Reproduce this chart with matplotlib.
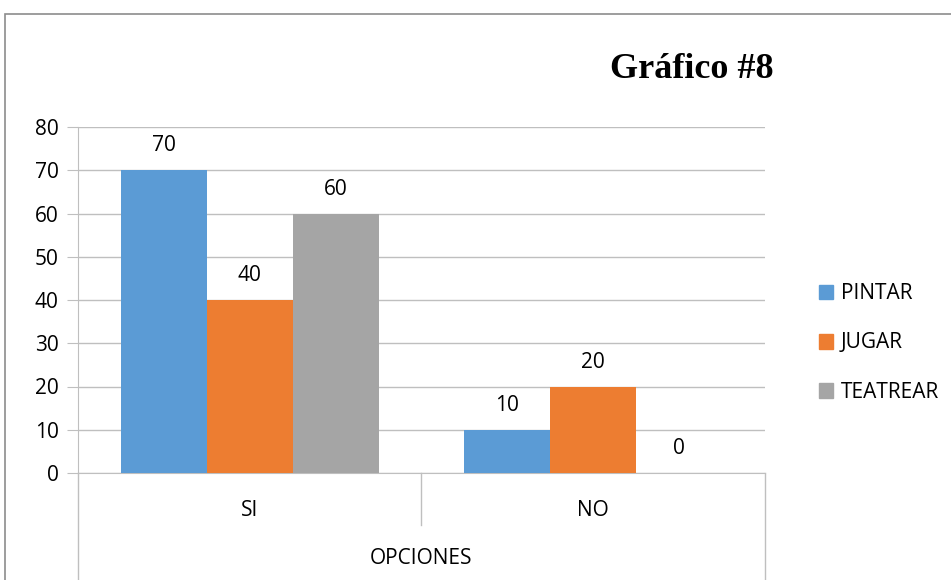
import matplotlib.pyplot as plt
import matplotlib.patches as mpatches
from matplotlib.lines import Line2D
import numpy as np

# Data
categories = ["SI", "NO"]
series_names = ["PINTAR", "JUGAR", "TEATREAR"]
pintar = [70, 10]
jugar = [40, 20]
teatrear = [60, 0]
colors = ["#5B9BD5", "#ED7D31", "#A5A5A5"]

plt.rcParams['font.family'] = ['Open Sans', 'DejaVu Sans']

W, H = 951, 580
fig = plt.figure(figsize=(W / 100, H / 100), dpi=100)

# Plot area in pixel coords
x0, x1 = 78, 765
y0, y1 = 473, 127
ax = fig.add_axes([x0 / W, 1 - y0 / H, (x1 - x0) / W, (y0 - y1) / H])

x = np.arange(len(categories))
width = 0.25
for i, (vals, name) in enumerate(zip([pintar, jugar, teatrear], series_names)):
    pos = x + (i - 1) * width
    ax.bar(pos, vals, width, color=colors[i], label=name, zorder=3)
    for p, v in zip(pos, vals):
        ax.annotate(str(v), (p, v), xytext=(0, 10), textcoords="offset points",
                    ha="center", va="bottom", fontsize=15, color="#000000")

ax.set_xlim(-0.5, 1.5)
ax.set_ylim(0, 80)
ax.set_yticks(range(0, 81, 10))
ax.tick_params(axis='y', length=8, color="#BFBFBF", labelsize=15, pad=6)
ax.tick_params(axis='x', length=0, labelbottom=False)
ax.grid(axis='y', color="#BFBFBF", linewidth=1, zorder=0)
for s in ["top", "right"]:
    ax.spines[s].set_visible(False)
ax.spines["left"].set_color("#BFBFBF")
ax.spines["bottom"].set_color("#BFBFBF")

# Category axis lines below the plot area
grey = "#BFBFBF"
for xp, ybot in [(78, 580), (421, 525), (765, 580)]:
    fig.add_artist(Line2D([xp / W, xp / W], [1 - 473 / H, 1 - ybot / H],
                          color=grey, linewidth=1))

for cx, lab in zip([249.5, 593], categories):
    fig.text(cx / W, 1 - 510 / H, lab, ha="center", va="center", fontsize=15)
fig.text(421 / W, 1 - 558 / H, "OPCIONES", ha="center", va="center", fontsize=15)

# Title
fig.text(692 / W, 1 - 70 / H, "Gráfico #8", ha="center", va="center",
         fontsize=26, fontweight="bold", family="Liberation Serif")

# Legend
handles = [mpatches.Patch(color=c, label=n) for c, n in zip(colors, series_names)]
fig.legend(handles=handles, loc="center left", bbox_to_anchor=(800 / W, 1 - 343 / H),
           frameon=False, fontsize=15, handlelength=0.7, handleheight=0.7,
           handletextpad=0.35, labelspacing=1.35)

# Outer chart border
fig.add_artist(mpatches.Rectangle((5 / W, -0.05), 1.0, 1 - 14 / H + 0.05,
                                  fill=False, edgecolor="#8C8C8C", linewidth=1.2,
                                  transform=fig.transFigure))

fig.savefig("out.png", dpi=100)
